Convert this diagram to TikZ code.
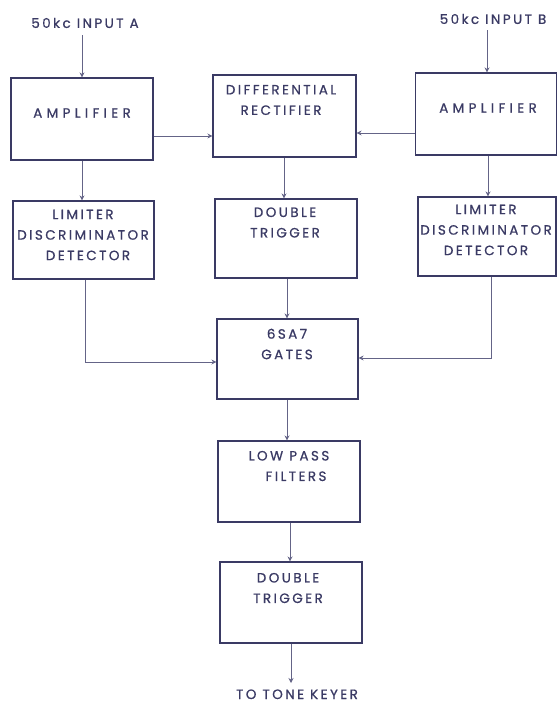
\documentclass[tikz,border=0pt]{standalone}
\usepackage{fontspec}
\setmainfont{Poppins}
\newfontfamily\lett[LetterSpace=18,FakeBold=0.8]{Poppins}
\newfontfamily\lettw[LetterSpace=32,FakeBold=0.8]{Poppins}
\usetikzlibrary{arrows.meta}
\definecolor{ink}{RGB}{58,58,100}
\definecolor{wirec}{RGB}{100,100,135}
\begin{document}
\begin{tikzpicture}[x=1pt,y=-1pt,
  box/.style={draw=ink, line width=1.1pt, inner sep=0pt},
  lbl/.style={text=ink, font=\lett\fontsize{13.5}{20.5}\selectfont, align=center, inner sep=0pt},
  wlbl/.style={lbl, font=\lettw\fontsize{13.5}{20.5}\selectfont},
  wire/.style={draw=wirec, line width=0.8pt, -{Stealth[length=5pt,width=5pt]}}]
\useasboundingbox (0,0) rectangle (557,703);
% boxes
\node[box, minimum width=142pt, minimum height=82pt] (ampA) at (82,119) {};
\node[box, minimum width=143pt, minimum height=82pt] (diff) at (284.5,116) {};
\node[box, minimum width=141pt, minimum height=82pt] (ampB) at (486,114) {};
\node[box, minimum width=141pt, minimum height=78pt] (limA) at (83.5,240) {};
\node[box, minimum width=142pt, minimum height=79pt] (dt1) at (286,238.5) {};
\node[box, minimum width=138pt, minimum height=79pt] (limB) at (487,236.5) {};
\node[box, minimum width=141pt, minimum height=80pt] (gates) at (287.5,359) {};
\node[box, minimum width=142pt, minimum height=81pt] (lpf) at (289,481.5) {};
\node[box, minimum width=142pt, minimum height=81pt] (dt2) at (291,602.5) {};
% texts
\node[wlbl] (ampAt) at (82,113) {AMPLIFIER};
\node[lbl] (difft) at (281,100) {DIFFERENTIAL\\RECTIFIER};
\node[wlbl] (ampBt) at (488,108) {AMPLIFIER};
\node[lbl] (limAt) at (83,235) {LIMITER\\DISCRIMINATOR\\\hspace*{10pt}DETECTOR};
\node[lbl] (dt1t) at (285,222.5) {DOUBLE\\TRIGGER};
\node[lbl] (gatest) at (287,344) {6SA7\\GATES};
\node[lbl] (limBt) at (486,230) {LIMITER\\DISCRIMINATOR\\DETECTOR};
\node[lbl] (lpft) at (289,466) {LOW PASS\\\hspace*{14pt}FILTERS};
\node[lbl] (dt2t) at (288,588) {DOUBLE\\TRIGGER};
\node[lbl] (inA) at (85,23) {50kc INPUT A};
\node[lbl] (inB) at (493,19) {50kc INPUT B};
\node[lbl, anchor=base] (out) at (297,699) {TO TONE KEYER};
\coordinate (outp) at (291,683);
% connectors
\draw[wire, shorten <=7pt] (inA.south -| ampA.north) -- (ampA.north);
\draw[wire, shorten <=6pt] (inB.south -| 487,0) -- (ampB.north -| 487,0);
\draw[wire] (ampA.east |- 0,136) -- (diff.west |- 0,136);
\draw[wire] (ampB.west |- 0,133) -- (diff.east |- 0,133);
\draw[wire] (ampA.south) -- (ampA.south |- limA.north);
\draw[wire] (diff.south -| 284,0) -- (dt1.north -| 284,0);
\draw[wire] (ampB.south -| 488,0) -- (limB.north -| 488,0);
\draw[wire] (dt1.south -| 287,0) -- (gates.north -| 287,0);
\draw[wire] (limA.south -| 85,0) |- (gates.west |- 0,362);
\draw[wire] (limB.south -| 491,0) |- (gates.east |- 0,358);
\draw[wire] (gates.south -| 287,0) -- (lpf.north -| 287,0);
\draw[wire] (lpf.south -| 290,0) -- (dt2.north -| 290,0);
\draw[wire] (dt2.south -| outp) -- (outp);
\end{tikzpicture}
\end{document}
